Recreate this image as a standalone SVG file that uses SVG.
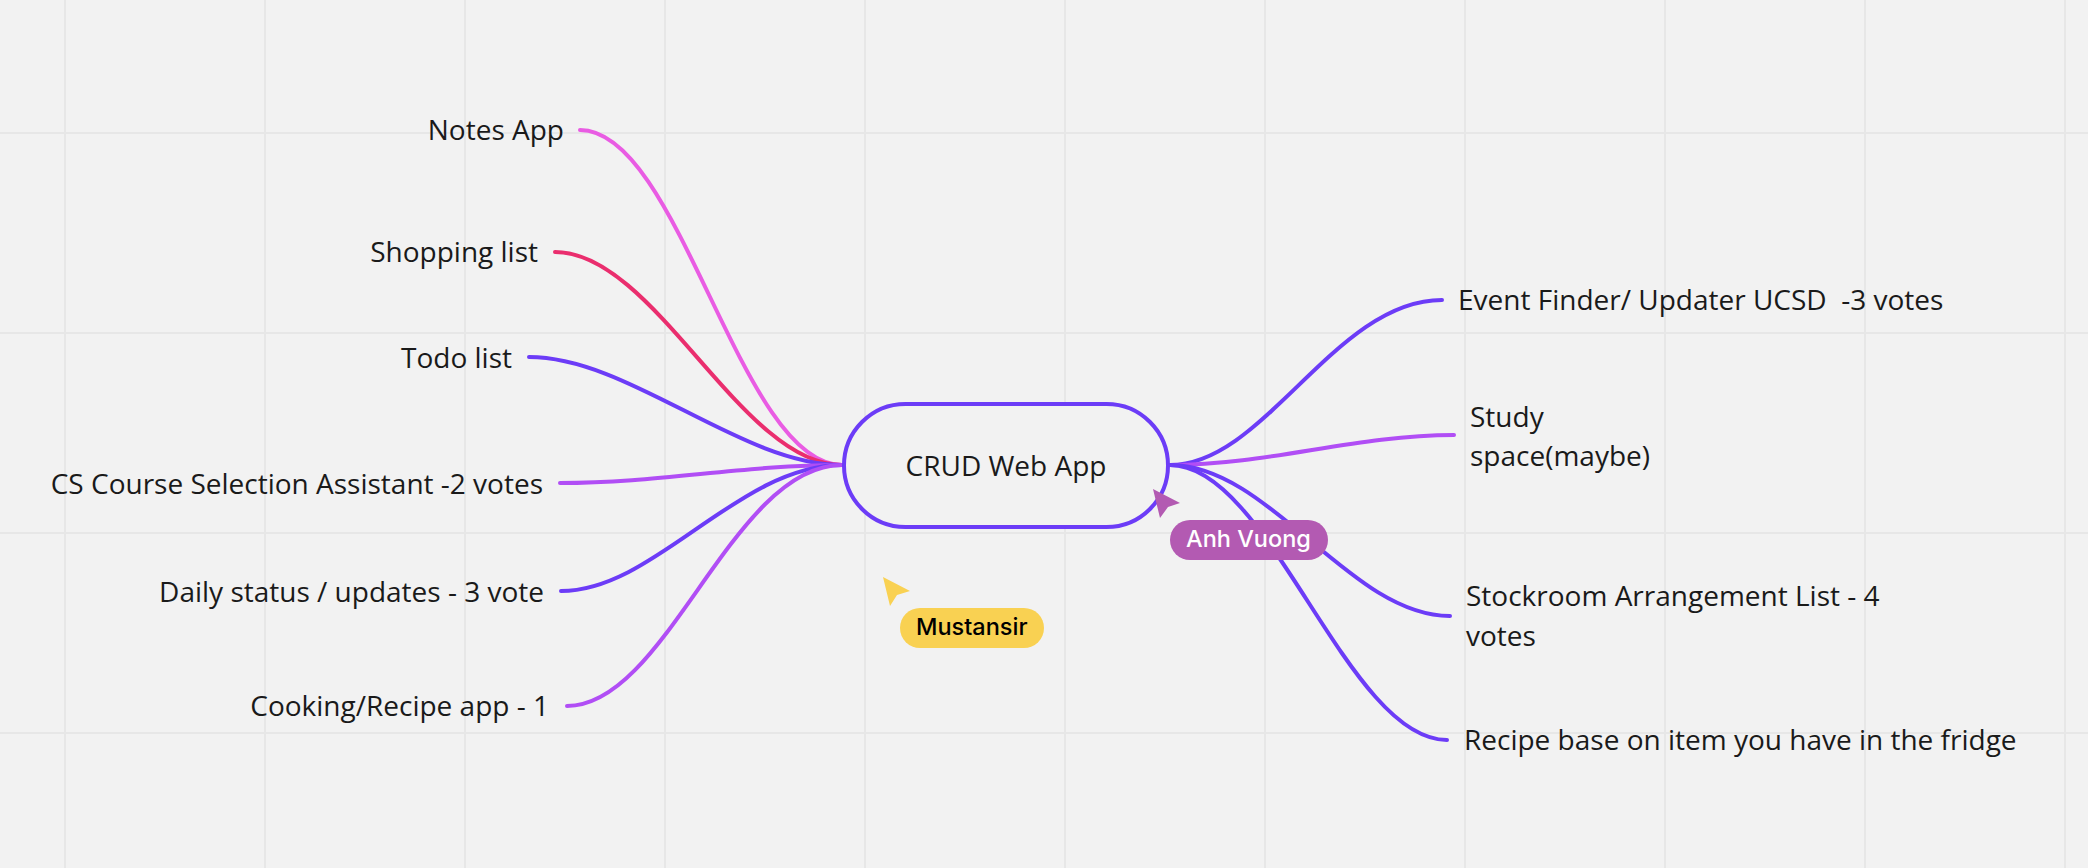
<svg xmlns="http://www.w3.org/2000/svg" width="2088" height="868" viewBox="0 0 2088 868">
<style>
.g{stroke:#e7e7e7;stroke-width:2;fill:none}
.c{fill:none;stroke-width:4;stroke-linecap:round}
.p{stroke:#6c3cf7}.v{stroke:#b14ef5}.k{stroke:#e95ce3}.r{stroke:#ea2e6e}
text{font-family:"Open Sans","Noto Sans","Liberation Sans",sans-serif;font-size:28px;fill:#1a1a1a;white-space:pre}
.e{text-anchor:end}
.u{font-family:"Inter","Roboto",sans-serif;font-size:23.5px;font-weight:500}
</style>
<rect width="2088" height="868" fill="#f2f2f2"/>
<g id="grid">
<path class="g" d="M65 0V868M265 0V868M465 0V868M665 0V868M865 0V868M1065 0V868M1265 0V868M1465 0V868M1665 0V868M1865 0V868M2065 0V868M0 133H2088M0 333H2088M0 533H2088M0 733H2088"/>
</g>
<g id="connectors">
<path class="c k" d="M580 130C680 130 740 465 842 465"/>
<path class="c r" d="M555 252C655 252 741 465 842 465"/>
<path class="c p" d="M529 357C629 357 741 465 842 465"/>
<path class="c v" d="M560 483C660 483 741 465 842 465"/>
<path class="c p" d="M561 591C655 591 738 465 842 465"/>
<path class="c v" d="M567 706C667 706 732 465 842 465"/>
<path class="c p" d="M1170 465C1265 465 1335 300 1442 300"/>
<path class="c v" d="M1170 465C1270 465 1354 435 1454 435"/>
<path class="c p" d="M1170 465C1270 465 1350 616 1450 616"/>
<path class="c p" d="M1170 465C1270 465 1347 740 1447 740"/>
</g>
<g id="hub">
<rect x="844" y="404" width="324" height="123" rx="61.5" ry="61.5" fill="#f2f2f2" stroke="#6c3cf7" stroke-width="4"/>
<text x="1006" y="476" text-anchor="middle">CRUD Web App</text>
</g>
<g id="n-notes"><text class="e" x="564" y="140">Notes App</text></g>
<g id="n-shopping"><text class="e" x="538" y="262">Shopping list</text></g>
<g id="n-todo"><text class="e" x="512" y="368">Todo list</text></g>
<g id="n-cs"><text class="e" x="543" y="494">CS Course Selection Assistant -2 votes</text></g>
<g id="n-daily"><text class="e" x="544" y="602">Daily status / updates - 3 vote</text></g>
<g id="n-cooking"><text class="e" x="549" y="716">Cooking/Recipe app - 1</text></g>
<g id="n-event"><text x="1458" y="310">Event Finder/ Updater UCSD  -3 votes</text></g>
<g id="n-study"><text x="1470" y="427">Study</text><text x="1470" y="466">space(maybe)</text></g>
<g id="n-stockroom"><text x="1466" y="606">Stockroom Arrangement List - 4</text><text x="1466" y="646">votes</text></g>
<g id="n-recipe"><text x="1464" y="750">Recipe base on item you have in the fridge</text></g>
<g id="cursor-anh">
<path d="M1153 489L1180 503L1168 507L1160 518Z" fill="#b35ab2"/>
<rect x="1170" y="520" width="158" height="40" rx="20" fill="#b35ab2"/>
<text class="u" x="1186" y="547" style="fill:#fff">Anh Vuong</text>
</g>
<g id="cursor-mustansir">
<path d="M883 577L910 591L897 595L890 606Z" fill="#f9d152"/>
<rect x="900" y="608" width="144" height="40" rx="20" fill="#f9d152"/>
<text class="u" x="916" y="635" style="fill:#000">Mustansir</text>
</g>
</svg>
